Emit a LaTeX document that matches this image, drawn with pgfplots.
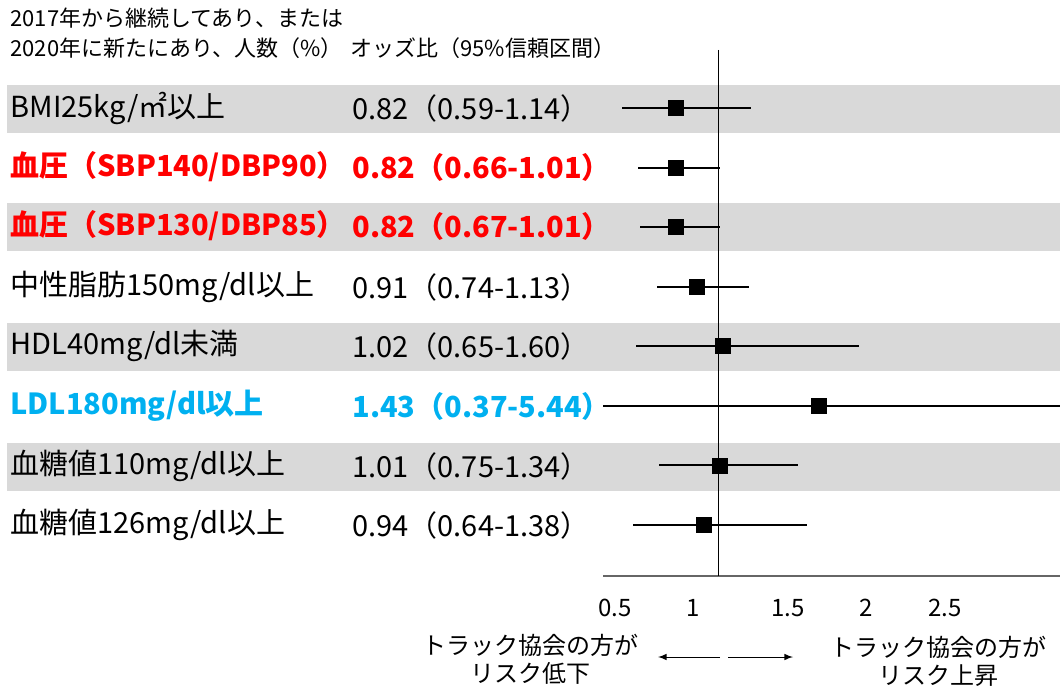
\documentclass[border=0pt]{standalone}
\usepackage{pgfplots}
\pgfplotsset{compat=1.18}
\usepackage{pgfplotstable}
\usepackage{fontspec}
\setmainfont{Noto Sans CJK JP}
\definecolor{band}{HTML}{D9D9D9}
\definecolor{myred}{HTML}{FF0000}
\definecolor{myblue}{HTML}{00B0F0}
\pgfplotstableread{
row or lo hi
1 0.82 0.59 1.14
2 0.82 0.66 1.01
3 0.82 0.67 1.01
4 0.91 0.74 1.13
5 1.02 0.65 1.60
6 1.43 0.37 5.44
7 1.01 0.75 1.34
8 0.94 0.64 1.38
}\ordata
\newcommand{\rowfont}{\fontsize{14.5}{17}\selectfont}
\newcommand{\hdfont}{\fontsize{11}{13}\selectfont}
\newcommand{\btfont}{\fontsize{12}{14}\selectfont}
\begin{document}
\begin{tikzpicture}[x=0.5pt,y=0.5pt]
\useasboundingbox (0,0) rectangle (1060,-690);
\coordinate (axpos) at (603,-576);
\foreach \r in {108,226,346,466} {\fill[band] (7,{-\r+23}) rectangle (1060,{-\r-25});}
% header
\node[anchor=west,inner sep=0,font=\hdfont] at (10,-18) {2017年から継続してあり、または};
\node[anchor=west,inner sep=0,font=\hdfont] at (10,-48) {2020年に新たにあり、人数（\%）};
\node[anchor=west,inner sep=0,font=\hdfont] at (350,-48) {オッズ比（95\%信頼区間）};
% row labels
\node[anchor=west,inner sep=0,font=\rowfont] at (10,-108) {BMI25kg/㎡以上};
\node[anchor=west,inner sep=0,font=\rowfont\bfseries,text=myred] at (10,-167) {血圧（SBP140/DBP90）};
\node[anchor=west,inner sep=0,font=\rowfont\bfseries,text=myred] at (10,-226) {血圧（SBP130/DBP85）};
\node[anchor=west,inner sep=0,font=\rowfont] at (10,-287) {中性脂肪150mg/dl以上};
\node[anchor=west,inner sep=0,font=\rowfont] at (10,-346) {HDL40mg/dl未満};
\node[anchor=west,inner sep=0,font=\rowfont\bfseries,text=myblue] at (10,-406) {LDL180mg/dl以上};
\node[anchor=west,inner sep=0,font=\rowfont] at (10,-466) {血糖値110mg/dl以上};
\node[anchor=west,inner sep=0,font=\rowfont] at (10,-525) {血糖値126mg/dl以上};
% values
\node[anchor=west,inner sep=0,font=\rowfont] at (352,-108) {0.82（0.59-1.14）};
\node[anchor=west,inner sep=0,font=\rowfont\bfseries,text=myred] at (352,-167) {0.82（0.66-1.01）};
\node[anchor=west,inner sep=0,font=\rowfont\bfseries,text=myred] at (352,-226) {0.82（0.67-1.01）};
\node[anchor=west,inner sep=0,font=\rowfont] at (352,-287) {0.91（0.74-1.13）};
\node[anchor=west,inner sep=0,font=\rowfont] at (352,-346) {1.02（0.65-1.60）};
\node[anchor=west,inner sep=0,font=\rowfont\bfseries,text=myblue] at (352,-406) {1.43（0.37-5.44）};
\node[anchor=west,inner sep=0,font=\rowfont] at (352,-466) {1.01（0.75-1.34）};
\node[anchor=west,inner sep=0,font=\rowfont] at (352,-525) {0.94（0.64-1.38）};
\begin{axis}[at={(axpos)}, anchor=south west, scale only axis,
  width=228.5pt, height=263pt,
  xmin=0.5106, xmax=2.4553, ymin=-8.856, ymax=-0.026,
  axis y line=none, axis x line*=bottom,
  x axis line style={black!60, line width=0.6pt},
  xtick={0.5617,0.8936,1.2979,1.6298,1.966},
  xticklabels={0.5,1,1.5,2,2.5},
  major tick length=0pt,
  /pgf/number format/assume math mode=true,
  xticklabel style={font=\btfont, anchor=center, yshift=-16pt},
  ytick=\empty]
\addplot[black, line width=0.5pt, forget plot] coordinates {(1,-0.026) (1,-8.856)};
\addplot[only marks, mark=square*, mark size=3.75pt, black,
  error bars/.cd, x dir=both, x explicit, error mark=none,
  error bar style={line width=1pt, black}]
  table[x=or, y expr=-\thisrow{row},
        x error plus expr=\thisrow{hi}-\thisrow{or},
        x error minus expr=\thisrow{or}-\thisrow{lo}] {\ordata};
\end{axis}
% bottom annotations
\node[align=center,inner sep=0,font=\btfont] at (530,-659) {トラック協会の方が\\リスク低下};
\node[align=center,inner sep=0,font=\btfont] at (938,-661) {トラック協会の方が\\リスク上昇};
\draw[-latex, line width=0.5pt] (720,-657) -- (658,-657);
\draw[-latex, line width=0.5pt] (728,-657) -- (793,-657);
\end{tikzpicture}
\end{document}
